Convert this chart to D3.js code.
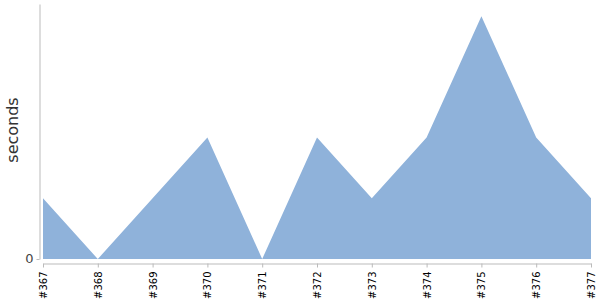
<!DOCTYPE html>
<html><head><meta charset="utf-8">
<script src="https://cdn.jsdelivr.net/npm/d3@7"></script>
<style>body{margin:0;background:#fff}svg{display:block}</style>
</head><body>
<svg id="c" width="600" height="300"></svg>
<script>
const categories = ["#367","#368","#369","#370","#371","#372","#373","#374","#375","#376","#377"];
const values = [1,0,1,2,0,2,1,2,4,2,1];
const yTicks = [0];

const svg = d3.select("#c");
const x = d3.scalePoint().domain(categories).range([43, 591]);
const y = d3.scaleLinear().domain([0, 4.2]).range([259, 4]);

svg.append("path")
  .datum(values)
  .attr("fill", "#8fb2da")
  .attr("d", d3.area().x((d,i)=>x(categories[i])).y0(y(0)).y1(d=>y(d)));

const ya = svg.append("g").attr("transform","translate(39.5,0)")
  .call(d3.axisLeft(y).tickValues(yTicks).tickFormat(d3.format("d")).tickSize(3).tickSizeOuter(0));
ya.attr("font-family", null);
ya.select(".domain").attr("stroke","#bbb");
ya.selectAll(".tick line").attr("stroke","#bbb");
ya.selectAll(".tick text").style("font-family","'DejaVu Sans'").style("font-size","13px").attr("fill","#444").attr("dy","0.3em");

const xa = svg.append("g").attr("transform","translate(0,263.5)")
  .call(d3.axisBottom(x).tickSize(4).tickSizeOuter(0));
xa.attr("font-family", null);
xa.select(".domain").attr("stroke","#bbb");
xa.selectAll(".tick line").attr("stroke","#bbb");
xa.selectAll(".tick text")
  .style("font-family","'DejaVu Sans'").style("font-size","10px").attr("fill","#000")
  .attr("transform","rotate(-90)").attr("text-anchor","end")
  .attr("x",-8).attr("y",0).attr("dy","0.35em");

svg.append("text").attr("transform","translate(18,130) rotate(-90)")
  .attr("text-anchor","middle").style("font-family","'DejaVu Sans'")
  .style("font-size","16px").attr("fill","#333").text("seconds");
</script>
</body></html>
